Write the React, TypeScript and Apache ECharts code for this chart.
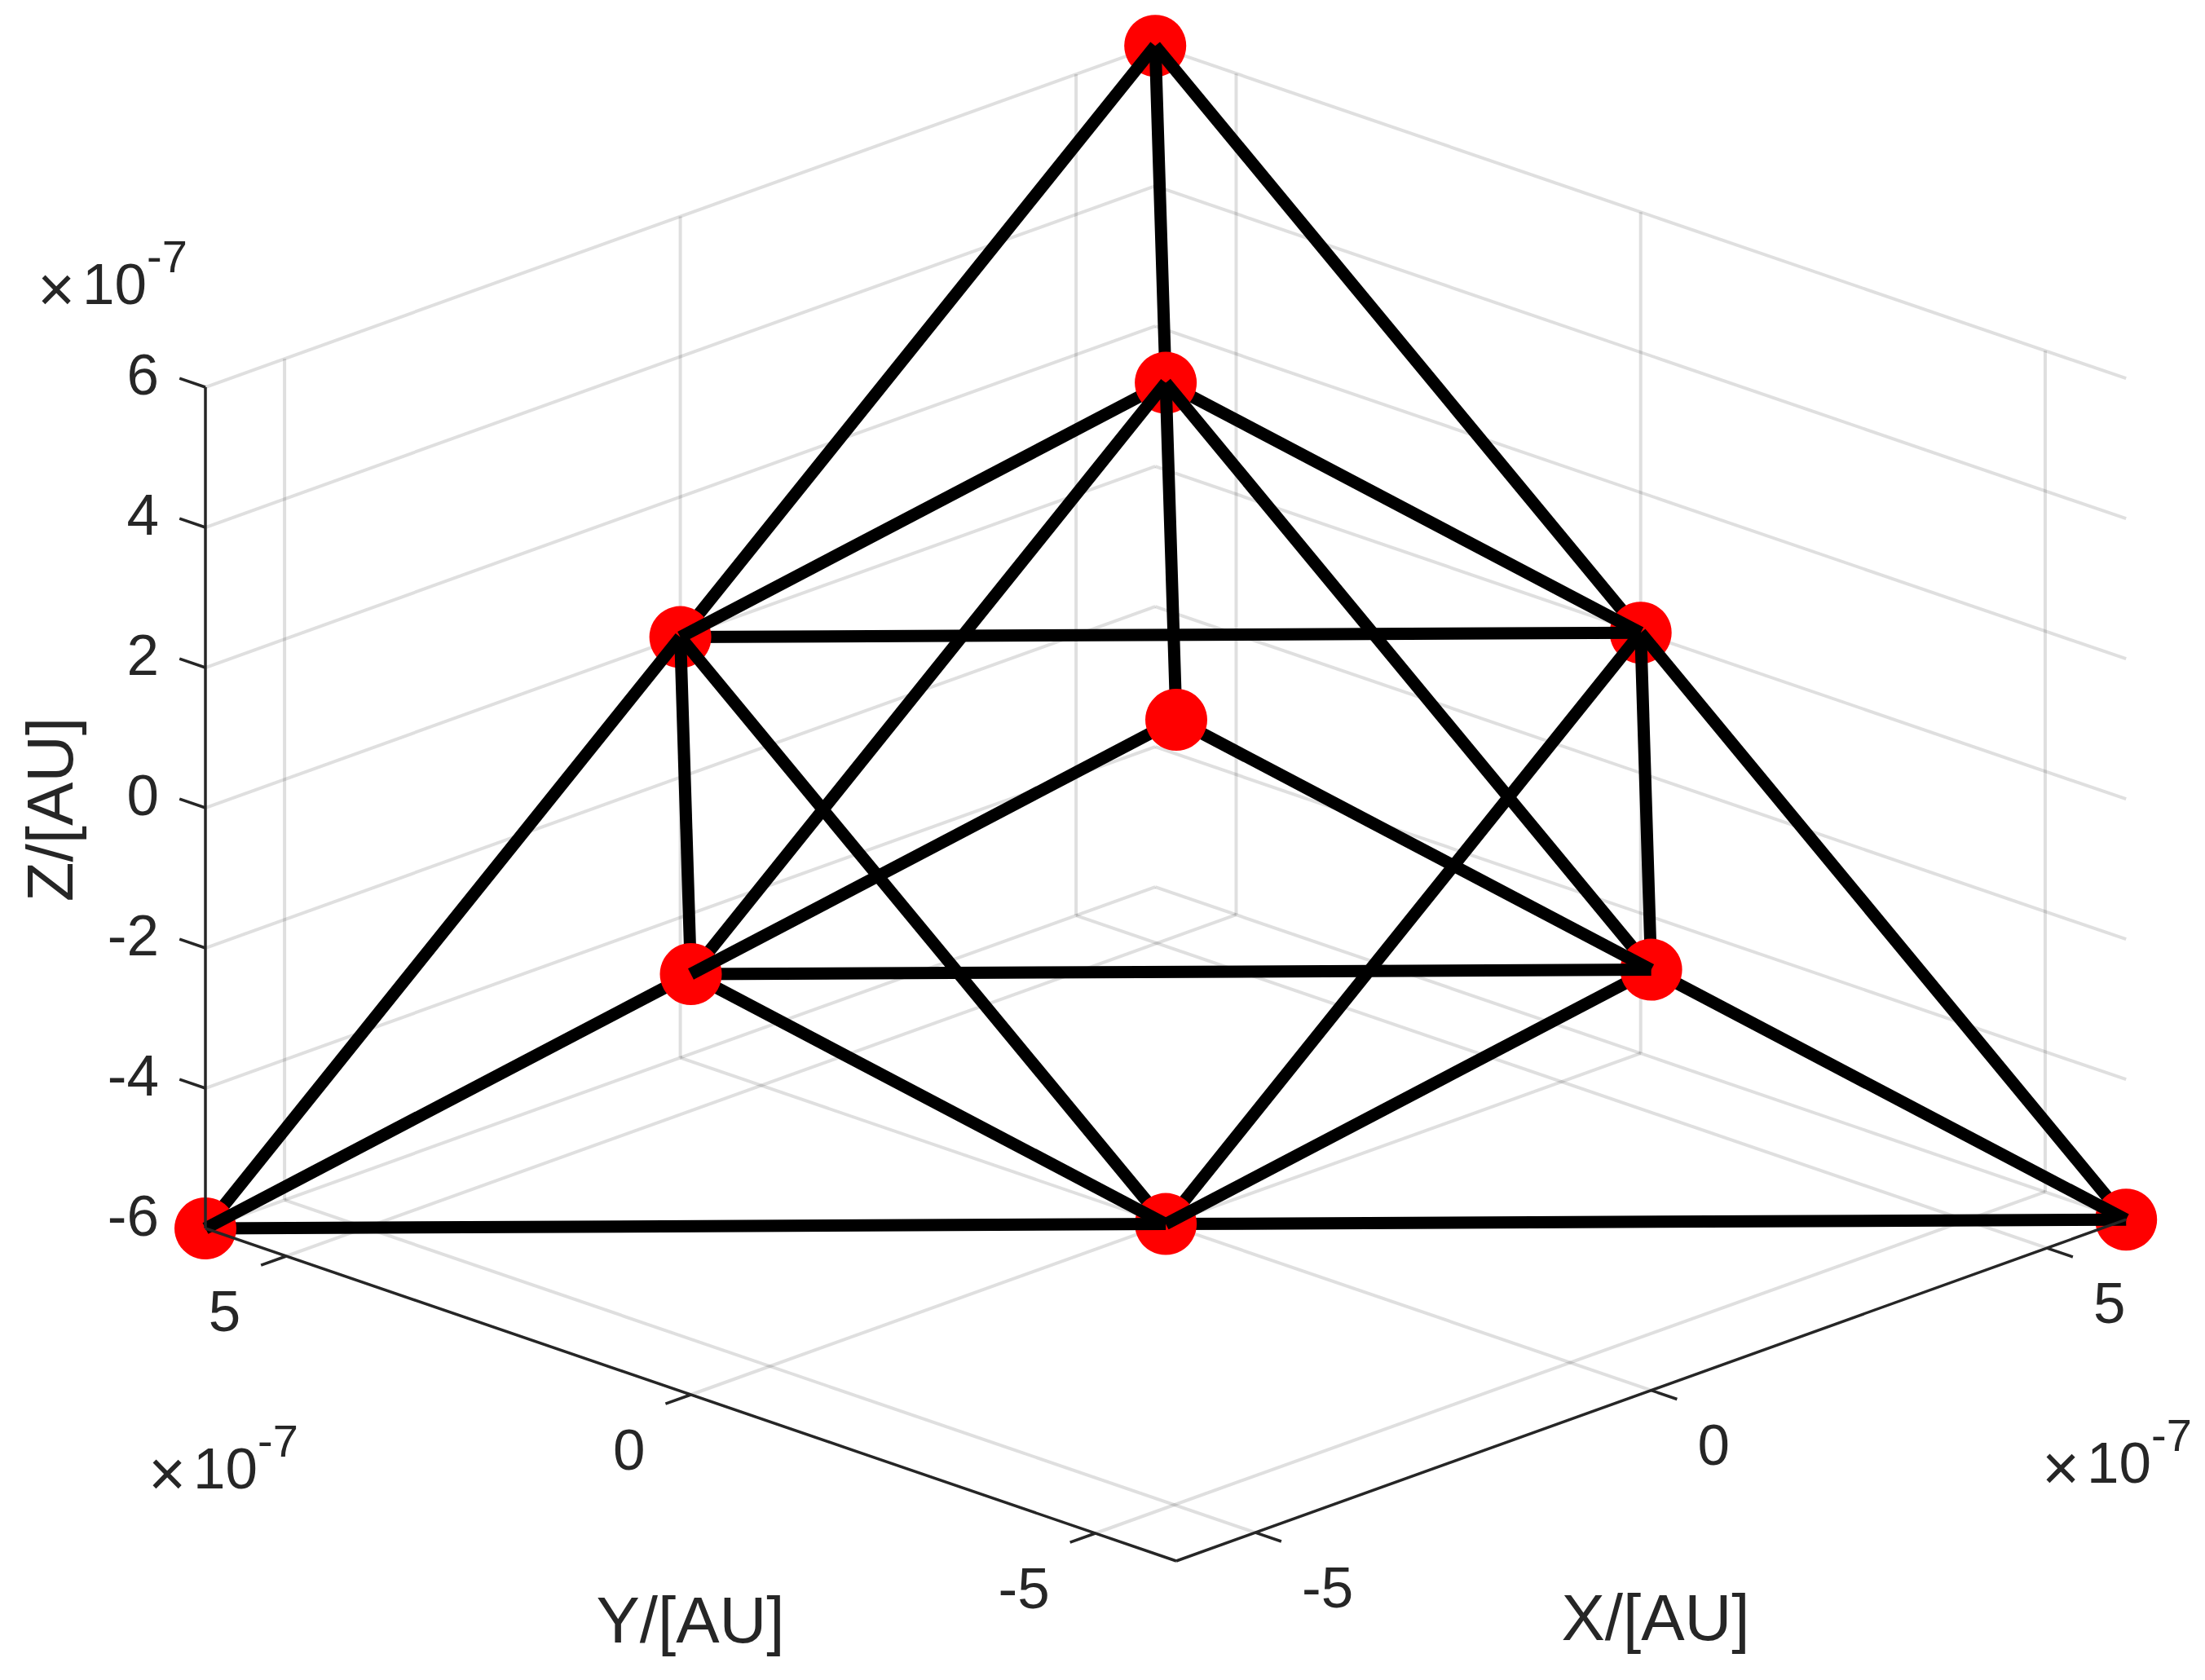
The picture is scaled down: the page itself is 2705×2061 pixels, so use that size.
import React, { useEffect, useRef } from "react";
import * as echarts from "echarts";

const WIDTH = 2705;
const HEIGHT = 2061;

// Node positions in units of 1e-7 AU
const nodes: number[][] = [
  [6, 6, 6],
  [0, 0, 6],
  [-6, -6, 6],
  [0, 6, 0],
  [6, 0, 0],
  [-6, 0, 0],
  [0, -6, 0],
  [-6, 6, -6],
  [0, 0, -6],
  [6, -6, -6],
];
const edges: number[][] = [
  [0, 1], [0, 3], [0, 4],
  [1, 2], [1, 3], [1, 4], [1, 5], [1, 6],
  [2, 5], [2, 6],
  [3, 4], [3, 5], [3, 7], [3, 8],
  [4, 6], [4, 8], [4, 9],
  [5, 6], [5, 7], [5, 8],
  [6, 8], [6, 9],
  [7, 8], [8, 9],
];
// Nodes from farthest to nearest the viewer
const depthOrder = [0, 4, 3, 9, 8, 7, 1, 6, 5, 2];
const xTicks = [-5, 0, 5];
const yTicks = [-5, 0, 5];
const zTicks = [-6, -4, -2, 0, 2, 4, 6];
const LIM = 6;

const xAxisTitle = "X/[AU]";
const yAxisTitle = "Y/[AU]";
const zAxisTitle = "Z/[AU]";

// Fixed 3-D view: lower-front corner and per-unit screen vectors
function project(x: number, y: number, z: number): number[] {
  const dx = x + LIM;
  const dy = y + LIM;
  const dz = z + LIM;
  return [1443 + dx * 97.1 - dy * 99.25, 1915 - dx * 34.9 - dy * 34 - dz * 86];
}

const FONT = '"Liberation Sans", Arial, sans-serif';
const INK = "#262626";
const GRID = "rgba(38,38,38,0.15)";
const TICK_FS = 71;
const TITLE_FS = 80;
const TICK_LEN = 0.32;

function seg(a: number[], b: number[], color: string, width: number) {
  return {
    type: "line",
    data: [project(a[0], a[1], a[2]), project(b[0], b[1], b[2])],
    symbol: "none",
    silent: true,
    clip: false,
    animation: false,
    lineStyle: { color, width, cap: "butt", opacity: 1 },
  };
}

function gridSeries() {
  const out: any[] = [];
  for (const x of xTicks) {
    out.push(seg([x, -LIM, -LIM], [x, LIM, -LIM], GRID, 4));
    out.push(seg([x, LIM, -LIM], [x, LIM, LIM], GRID, 4));
  }
  for (const y of yTicks) {
    out.push(seg([-LIM, y, -LIM], [LIM, y, -LIM], GRID, 4));
    out.push(seg([LIM, y, -LIM], [LIM, y, LIM], GRID, 4));
  }
  for (const z of zTicks) {
    out.push(seg([-LIM, LIM, z], [LIM, LIM, z], GRID, 4));
    out.push(seg([LIM, LIM, z], [LIM, -LIM, z], GRID, 4));
  }
  return out;
}

function axisSeries() {
  const out: any[] = [];
  out.push(seg([-LIM, -LIM, -LIM], [LIM, -LIM, -LIM], INK, 3.5));
  out.push(seg([-LIM, -LIM, -LIM], [-LIM, LIM, -LIM], INK, 3.5));
  out.push(seg([-LIM, LIM, -LIM], [-LIM, LIM, LIM], INK, 3.5));
  for (const x of xTicks) out.push(seg([x, -LIM, -LIM], [x, -LIM - TICK_LEN, -LIM], INK, 3.5));
  for (const y of yTicks) out.push(seg([-LIM, y, -LIM], [-LIM - TICK_LEN, y, -LIM], INK, 3.5));
  for (const z of zTicks.slice(1)) out.push(seg([-LIM, LIM, z], [-LIM, LIM + TICK_LEN, z], INK, 3.5));
  return out;
}

// Depth-sorted painter order: each edge sits above its far node and below its near node
function structureSeries() {
  const out: any[] = [];
  const rank = (i: number) => depthOrder.indexOf(i);
  for (const i of depthOrder) {
    const n = nodes[i];
    out.push({
      type: "scatter",
      data: [project(n[0], n[1], n[2])],
      symbol: "circle",
      symbolSize: 76,
      silent: true,
      clip: false,
      animation: false,
      itemStyle: { color: "#ff0000", opacity: 1 },
    });
    for (const e of edges) {
      const far = rank(e[0]) < rank(e[1]) ? e[0] : e[1];
      if (far === i) out.push(seg(nodes[e[0]], nodes[e[1]], "#000000", 15));
    }
  }
  return out;
}

function txt(text: string, x: number, y: number, fontSize: number, align: string, rotation = 0) {
  return {
    type: "text",
    x,
    y,
    rotation,
    silent: true,
    style: { text, fontSize, fontFamily: FONT, fill: INK, align, verticalAlign: "middle" },
  };
}

function exponent(x: number, y: number) {
  return [
    txt("×", x + 17, y + 30, TICK_FS + 8, "center"),
    txt("10", x + 49, y + 24, TICK_FS, "left"),
    txt("-7", x + 128, y - 10, 56, "left"),
  ];
}

function buildGraphics() {
  const g: any[] = [];
  for (const z of zTicks) {
    const p = project(-LIM, LIM, z);
    g.push(txt(String(z), p[0] - 57, p[1] - 16, TICK_FS, "right"));
  }
  for (const y of yTicks) {
    const p = project(-LIM, y, -LIM);
    g.push(txt(String(y), p[0] - 56, p[1] + 67, TICK_FS, "right"));
  }
  for (const x of xTicks) {
    const p = project(x, -LIM, -LIM);
    g.push(txt(String(x), p[0] + 57, p[1] + 67, TICK_FS, "left"));
  }
  g.push(txt(xAxisTitle, 2031, 1984, TITLE_FS, "center"));
  g.push(txt(yAxisTitle, 847, 1987, TITLE_FS, "center"));
  g.push(txt(zAxisTitle, 61, 993, TITLE_FS, "center", Math.PI / 2));
  g.push(...exponent(52, 324));
  g.push(...exponent(188, 1777));
  g.push(...exponent(2511, 1770));
  return g;
}

export default function App() {
  const ref = useRef<HTMLDivElement>(null);
  useEffect(() => {
    const chart = echarts.init(ref.current!, undefined, { renderer: "svg" });
    const series = [...gridSeries(), ...structureSeries(), ...axisSeries()].map((s, i) => ({
      ...s,
      z: i + 1,
    }));
    chart.setOption({
      animation: false,
      backgroundColor: "#ffffff",
      grid: { left: 0, right: 0, top: 0, bottom: 0 },
      xAxis: { type: "value", min: 0, max: WIDTH, show: false },
      yAxis: { type: "value", min: 0, max: HEIGHT, inverse: true, show: false },
      series,
      graphic: buildGraphics(),
    });
    return () => chart.dispose();
  }, []);
  return (
    <div
      ref={ref}
      style={{ position: "absolute", left: 0, top: 0, width: WIDTH, height: HEIGHT }}
    />
  );
}
